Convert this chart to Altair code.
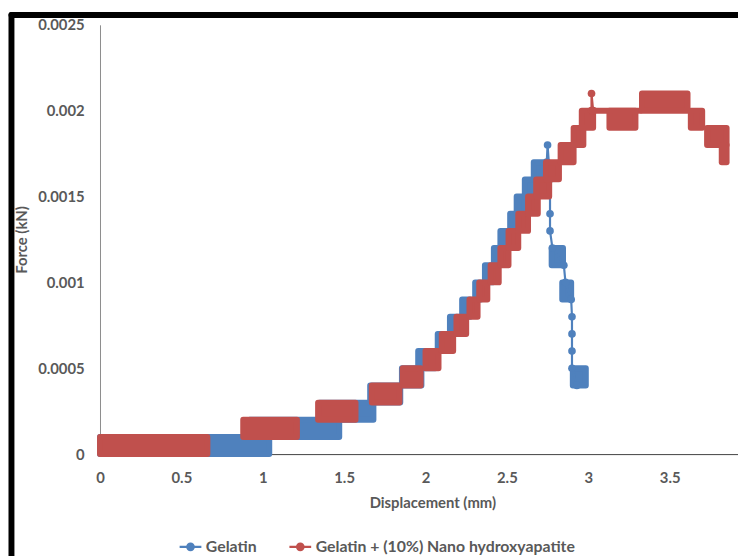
import altair as alt
import pandas as pd

SERIES = ["Gelatin", "Gelatin  + (10%) Nano hydroxyapatite"]
COLORS = ["#4F81BD", "#C0504D"]

X_TICKS = [0, 0.5, 1, 1.5, 2, 2.5, 3, 3.5]
Y_TICKS = [0, 0.0005, 0.001, 0.0015, 0.002, 0.0025]

# Gelatin: regions where the reading flickers between two force levels (kN)
gel_x1 = [0.00, 0.92, 1.35, 1.66, 1.855, 1.955, 2.075, 2.15, 2.225, 2.305, 2.365,
          2.42, 2.46, 2.52, 2.56, 2.61, 2.665, 2.775, 2.84, 2.905]
gel_x2 = [1.04, 1.47, 1.68, 1.845, 1.975, 2.06, 2.125, 2.20, 2.275, 2.34, 2.41,
          2.45, 2.50, 2.555, 2.61, 2.68, 2.755, 2.845, 2.895, 2.985]
gel_lo = [0.0, 0.0001, 0.0002, 0.0003, 0.0004, 0.0005, 0.0006, 0.0007, 0.0008, 0.0009, 0.0010,
          0.0011, 0.0012, 0.0013, 0.0014, 0.0015, 0.0016, 0.0011, 0.0009, 0.0004]
gel_hi = [0.0001, 0.0002, 0.0003, 0.0004, 0.0005, 0.0006, 0.0007, 0.0008, 0.0009, 0.0010, 0.0011,
          0.0012, 0.0013, 0.0014, 0.0015, 0.0016, 0.0017, 0.0012, 0.0010, 0.0005]
# Gelatin: single readings (peak and failure)
gel_px = [2.745, 2.75, 2.765, 2.765, 2.765, 2.78, 2.85, 2.86, 2.895, 2.90, 2.90, 2.90, 2.90, 2.93]
gel_py = [0.0017, 0.0018, 0.0016, 0.0014, 0.0013, 0.0012, 0.0011, 0.0010, 0.0009, 0.0008,
          0.0007, 0.0006, 0.0005, 0.0004]

# Gelatin + 10% nano hydroxyapatite
nha_x1 = [0.00, 0.88, 1.34, 1.67, 1.86, 2.00, 2.10, 2.19, 2.27, 2.33, 2.40, 2.46, 2.51,
          2.57, 2.63, 2.68, 2.74, 2.83, 2.91, 2.96, 3.02, 3.13, 3.33, 3.63, 3.73, 3.82]
nha_x2 = [0.66, 1.21, 1.57, 1.84, 1.97, 2.08, 2.17, 2.25, 2.32, 2.38, 2.45, 2.51, 2.57,
          2.63, 2.69, 2.76, 2.82, 2.91, 2.97, 3.03, 3.32, 3.29, 3.61, 3.70, 3.85, 3.85]
nha_lo = [0.0, 0.0001, 0.0002, 0.0003, 0.0004, 0.0005, 0.0006, 0.0007, 0.0008, 0.0009, 0.0010,
          0.0011, 0.0012, 0.0013, 0.0014, 0.0015, 0.0016, 0.0017, 0.0018, 0.0019, 0.0020,
          0.0019, 0.0020, 0.0019, 0.0018, 0.0017]
nha_hi = [0.0001, 0.0002, 0.0003, 0.0004, 0.0005, 0.0006, 0.0007, 0.0008, 0.0009, 0.0010, 0.0011,
          0.0012, 0.0013, 0.0014, 0.0015, 0.0016, 0.0017, 0.0018, 0.0019, 0.0020, 0.0020,
          0.0020, 0.0021, 0.0020, 0.0019, 0.0018]
nha_px = [3.02, 3.02, 3.03]
nha_py = [0.0020, 0.0021, 0.0020]

FONT = "Lato"
TXT = "#595959"

x_scale = alt.Scale(domain=[0, 3.92], nice=False, zero=False)
y_scale = alt.Scale(domain=[0, 0.0025], nice=False, zero=False)
c_scale = alt.Scale(domain=SERIES, range=COLORS)

x_axis = alt.Axis(values=X_TICKS, format="~g", title="Displacement (mm)", grid=False, ticks=False,
                  domainColor="#404040", domainWidth=1, labelFlush=False,
                  labelFont=FONT, labelFontSize=15, labelFontWeight="bold", labelColor=TXT,
                  labelPadding=17, titleFont=FONT, titleFontSize=15, titleFontWeight="bold",
                  titleColor=TXT, titleX=336, titleY=49, titleBaseline="middle")
y_axis = alt.Axis(values=Y_TICKS, format="~g", title="Force (kN)", grid=False, ticks=False,
                  domainColor="#8c8c8c", domainWidth=1, labelFlush=False,
                  labelFont=FONT, labelFontSize=15, labelFontWeight="bold", labelColor=TXT,
                  labelPadding=16, titleFont=FONT, titleFontSize=15, titleFontWeight="bold",
                  titleColor=TXT, titleX=-79, titleY=217, titleAngle=270,
                  titleAlign="center", titleBaseline="middle")

SYMBOL = ("M-1,0H1"
          "M-0.3,0A0.3,0.3,0,1,1,0.3,0A0.3,0.3,0,1,1,-0.3,0"
          "M-0.18,0A0.18,0.18,0,1,1,0.18,0A0.18,0.18,0,1,1,-0.18,0"
          "M-0.07,0A0.07,0.07,0,1,1,0.07,0A0.07,0.07,0,1,1,-0.07,0")

legend = alt.Legend(orient="none", legendX=79, legendY=515, direction="horizontal", title=None,
                    symbolType=SYMBOL, symbolSize=484, symbolStrokeWidth=2.2, labelLimit=500,
                    labelFont=FONT, labelFontSize=16, labelFontWeight="bold", labelColor=TXT,
                    labelOffset=3, columnPadding=28, padding=0)


def series_layers(k, x1, x2, lo, hi, px, py):
    name = SERIES[k]
    col = COLORS[k]
    bdf = pd.DataFrame({"x1": x1, "x2": x2, "lo": lo, "hi": hi, "series": name})
    pdf = pd.DataFrame({"x": px, "y": py, "i": list(range(len(px))), "series": name})
    rect = alt.Chart(bdf).mark_rect(fill=col, stroke=col, strokeWidth=6,
                                    strokeJoin="round", opacity=1).encode(
        x=alt.X("x1:Q", scale=x_scale, axis=x_axis),
        x2="x2:Q",
        y=alt.Y("lo:Q", scale=y_scale, axis=y_axis),
        y2="hi:Q",
    )
    line = alt.Chart(pdf).mark_line(strokeWidth=2.2).encode(
        x=alt.X("x:Q", scale=x_scale, axis=x_axis),
        y=alt.Y("y:Q", scale=y_scale, axis=y_axis),
        order="i:Q",
        color=alt.Color("series:N", scale=c_scale, legend=legend),
    )
    pts = alt.Chart(pdf).mark_circle(size=60, opacity=1, color=col).encode(
        x=alt.X("x:Q", scale=x_scale, axis=x_axis),
        y=alt.Y("y:Q", scale=y_scale, axis=y_axis),
    )
    return [rect, line, pts]


one = pd.DataFrame({"k": [0]})
frame_v = alt.Chart(one).mark_rule(color="black", strokeWidth=6, strokeCap="round").encode(
    x=alt.value(-89.5), y=alt.value(-10), y2=alt.value(560))
frame_h = alt.Chart(one).mark_rule(color="black", strokeWidth=6, strokeCap="round").encode(
    x=alt.value(-89.5), x2=alt.value(680), y=alt.value(-10))

layers = (series_layers(0, gel_x1, gel_x2, gel_lo, gel_hi, gel_px, gel_py)
          + series_layers(1, nha_x1, nha_x2, nha_lo, nha_hi, nha_px, nha_py)
          + [frame_v, frame_h])

chart = alt.layer(*layers).properties(
    width=645, height=434,
    autosize=alt.AutoSizeParams(type="none"),
    padding={"left": 93, "top": 14, "right": 0, "bottom": 100},
    background="white",
).configure_view(stroke=None)

chart.save("out.html", embed_options={"renderer": "svg", "actions": False})
